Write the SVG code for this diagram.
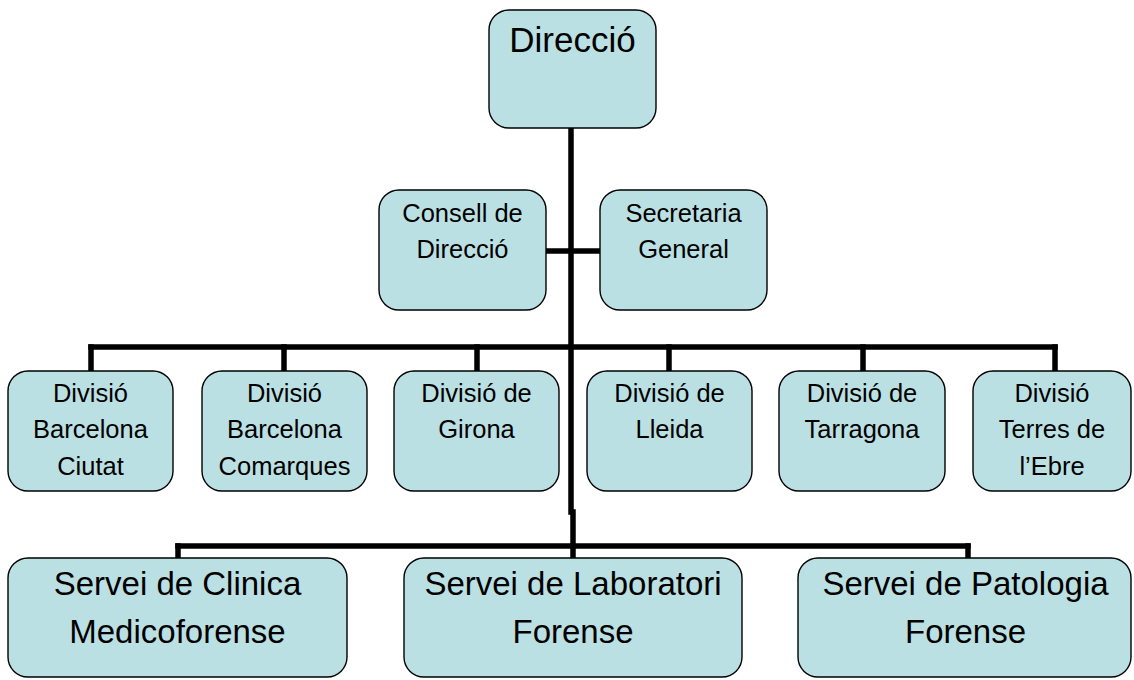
<svg xmlns="http://www.w3.org/2000/svg" width="1134" height="680" viewBox="0 0 1134 680">
<style>
.box{fill:#BBE0E3;stroke:#000;stroke-width:1.4}
.ln{stroke:#000;stroke-width:5.5;fill:none;stroke-linecap:square}
text{font-family:"Liberation Sans",Arial,sans-serif;fill:#000;text-anchor:middle}
.t1{font-size:35px}
.t2{font-size:25.5px}
.t3{font-size:33px}
</style>
<rect width="1134" height="680" fill="#fff"/>
<g id="connectors">
<line class="ln" x1="571" y1="130" x2="571" y2="512"/>
<line class="ln" x1="573" y1="512" x2="573" y2="556"/>
<line class="ln" x1="548" y1="251" x2="598" y2="251"/>
<line class="ln" x1="91" y1="347" x2="1055" y2="347"/>
<line class="ln" x1="91" y1="347" x2="91" y2="369"/>
<line class="ln" x1="284" y1="347" x2="284" y2="369"/>
<line class="ln" x1="477" y1="347" x2="477" y2="369"/>
<line class="ln" x1="669" y1="347" x2="669" y2="369"/>
<line class="ln" x1="863" y1="347" x2="863" y2="369"/>
<line class="ln" x1="1055" y1="347" x2="1055" y2="369"/>
<line class="ln" x1="178" y1="546" x2="968" y2="546"/>
<line class="ln" x1="178" y1="546" x2="178" y2="556"/>
<line class="ln" x1="968" y1="546" x2="968" y2="556"/>
</g>
<g id="direccio">
<rect class="box" x="489" y="10" width="167" height="118" rx="20"/>
<text class="t1" x="572.5" y="52">Direcció</text>
</g>
<g id="consell">
<rect class="box" x="379" y="190" width="167" height="120" rx="20"/>
<text class="t2" x="462.5" y="222">Consell de</text>
<text class="t2" x="462.5" y="258">Direcció</text>
</g>
<g id="secretaria">
<rect class="box" x="600" y="190" width="167" height="120" rx="20"/>
<text class="t2" x="683.5" y="222">Secretaria</text>
<text class="t2" x="683.5" y="258">General</text>
</g>
<g id="div-bcn-ciutat">
<rect class="box" x="8" y="371" width="165" height="120" rx="20"/>
<text class="t2" x="90.5" y="402">Divisió</text>
<text class="t2" x="90.5" y="438">Barcelona</text>
<text class="t2" x="90.5" y="475">Ciutat</text>
</g>
<g id="div-bcn-comarques">
<rect class="box" x="202" y="371" width="165" height="120" rx="20"/>
<text class="t2" x="284.5" y="402">Divisió</text>
<text class="t2" x="284.5" y="438">Barcelona</text>
<text class="t2" x="284.5" y="475">Comarques</text>
</g>
<g id="div-girona">
<rect class="box" x="394" y="371" width="165" height="120" rx="20"/>
<text class="t2" x="476.5" y="402">Divisió de</text>
<text class="t2" x="476.5" y="438">Girona</text>
</g>
<g id="div-lleida">
<rect class="box" x="587" y="371" width="165" height="120" rx="20"/>
<text class="t2" x="669.5" y="402">Divisió de</text>
<text class="t2" x="669.5" y="438">Lleida</text>
</g>
<g id="div-tarragona">
<rect class="box" x="779" y="371" width="166" height="120" rx="20"/>
<text class="t2" x="862" y="402">Divisió de</text>
<text class="t2" x="862" y="438">Tarragona</text>
</g>
<g id="div-terres-ebre">
<rect class="box" x="973" y="371" width="158" height="120" rx="20"/>
<text class="t2" x="1052" y="402">Divisió</text>
<text class="t2" x="1052" y="438">Terres de</text>
<text class="t2" x="1052" y="475">l’Ebre</text>
</g>
<g id="servei-clinica">
<rect class="box" x="8" y="558" width="339" height="119" rx="20"/>
<text class="t3" x="177.5" y="595">Servei de Clinica</text>
<text class="t3" x="177.5" y="643">Medicoforense</text>
</g>
<g id="servei-laboratori">
<rect class="box" x="404" y="558" width="338" height="119" rx="20"/>
<text class="t3" x="573" y="595">Servei de Laboratori</text>
<text class="t3" x="573" y="643">Forense</text>
</g>
<g id="servei-patologia">
<rect class="box" x="798" y="558" width="333" height="119" rx="20"/>
<text class="t3" x="965.5" y="595">Servei de Patologia</text>
<text class="t3" x="965.5" y="643">Forense</text>
</g>
</svg>
